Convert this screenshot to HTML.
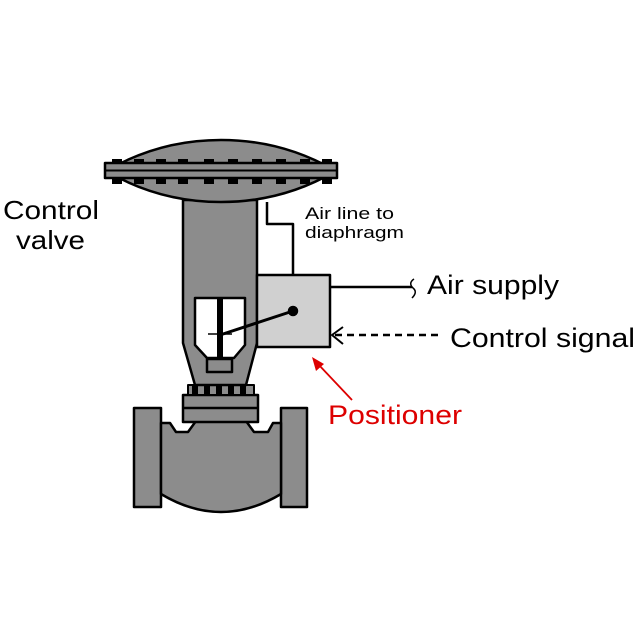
<!DOCTYPE html>
<html><head><style>
html,body{margin:0;padding:0;background:#fff;}
svg{display:block;}
text{font-family:"Liberation Sans",sans-serif;}
</style></head><body>
<svg width="640" height="640" viewBox="0 0 640 640" xmlns="http://www.w3.org/2000/svg">
<g stroke="#000" stroke-width="2.5" stroke-linejoin="round">
<rect x="134" y="408" width="27" height="99" fill="#8c8c8c"/>
<rect x="281" y="408" width="26" height="99" fill="#8c8c8c"/>
<path d="M161 423 L170 423 L176 432 L188 432 L196 421 L246 421 L254 432 L268 432 L273 423 L281 423 L281 494 Q221 530 161 494 Z" fill="#8c8c8c"/>
<rect x="183" y="395" width="75" height="27" fill="#8c8c8c"/>
<line x1="183" y1="408" x2="258" y2="408"/>
<rect x="188" y="385" width="66" height="10" fill="#8c8c8c" stroke-width="2"/>
<g fill="#000" stroke="none">
<rect x="192" y="384" width="6" height="11"/><rect x="204" y="384" width="6" height="11"/>
<rect x="216" y="384" width="6" height="11"/><rect x="228" y="384" width="6" height="11"/>
<rect x="240" y="384" width="6" height="11"/>
</g>
<path d="M183 200 L257 200 L257 343 L246 385 L195 385 L183 343 Z" fill="#8c8c8c"/>
<path d="M195 298 L245 298 L245 345 L234 358 L207 358 L195 345 Z" fill="#fff"/>
<rect x="217" y="298" width="6" height="62" fill="#000" stroke="none"/>
<line x1="208" y1="334" x2="232" y2="334" stroke-width="1.5"/>
<rect x="207" y="359" width="25" height="13" fill="#8c8c8c"/>
<path d="M108 170 Q160 140 221 140 Q282 140 334 170 Z" fill="#8c8c8c"/>
<path d="M108 172 Q160 202 221 202 Q282 202 334 172 Z" fill="#8c8c8c"/>
<rect x="105" y="163" width="232" height="15" fill="#8c8c8c"/>
<line x1="105" y1="170.5" x2="337" y2="170.5" stroke-width="2"/>
<g fill="#000" stroke="none">
<rect x="112" y="159" width="10" height="5"/><rect x="134" y="159" width="10" height="5"/><rect x="156" y="159" width="10" height="5"/><rect x="178" y="159" width="10" height="5"/><rect x="204" y="159" width="10" height="5"/><rect x="228" y="159" width="10" height="5"/><rect x="252" y="159" width="10" height="5"/><rect x="276" y="159" width="10" height="5"/><rect x="300" y="159" width="10" height="5"/><rect x="322" y="159" width="10" height="5"/>
<rect x="112" y="177" width="10" height="7"/><rect x="134" y="177" width="10" height="7"/><rect x="156" y="177" width="10" height="7"/><rect x="178" y="177" width="10" height="7"/><rect x="204" y="177" width="10" height="7"/><rect x="228" y="177" width="10" height="7"/><rect x="252" y="177" width="10" height="7"/><rect x="276" y="177" width="10" height="7"/><rect x="300" y="177" width="10" height="7"/><rect x="322" y="177" width="10" height="7"/>
</g>
<path d="M267 202 L267 224 L293 224 L293 275" fill="none"/>
<rect x="257" y="275" width="73" height="72" fill="#d0d0d0"/>
<line x1="220" y1="335" x2="293" y2="311" stroke-width="3"/>
<circle cx="293" cy="311" r="4" fill="#000"/>
<line x1="330" y1="287" x2="412" y2="287"/>
<path d="M414 279 Q408 283 413 288 Q418 292 412 298" fill="none" stroke-width="1.5"/>
<line x1="335" y1="335" x2="440" y2="335" stroke-dasharray="7,5"/>
<path d="M343 327 L332 335 L343 344" fill="none" stroke-width="2"/>
</g>
<line x1="352" y1="400" x2="318" y2="364" stroke="#d00" stroke-width="1.8"/>
<path d="M312 357 L324 364 L316 371 Z" fill="#d00"/>
<text x="3" y="219" font-size="26" textLength="96" lengthAdjust="spacingAndGlyphs">Control</text>
<text x="16" y="249" font-size="26" textLength="69" lengthAdjust="spacingAndGlyphs">valve</text>
<text x="305" y="219" font-size="17" textLength="89" lengthAdjust="spacingAndGlyphs">Air line to</text>
<text x="305" y="238" font-size="17" textLength="99" lengthAdjust="spacingAndGlyphs">diaphragm</text>
<text x="427" y="294" font-size="27" textLength="132" lengthAdjust="spacingAndGlyphs">Air supply</text>
<text x="450" y="347" font-size="27" textLength="185" lengthAdjust="spacingAndGlyphs">Control signal</text>
<text x="328" y="424" font-size="27" fill="#d00" textLength="134" lengthAdjust="spacingAndGlyphs">Positioner</text>
</svg>
</body></html>
